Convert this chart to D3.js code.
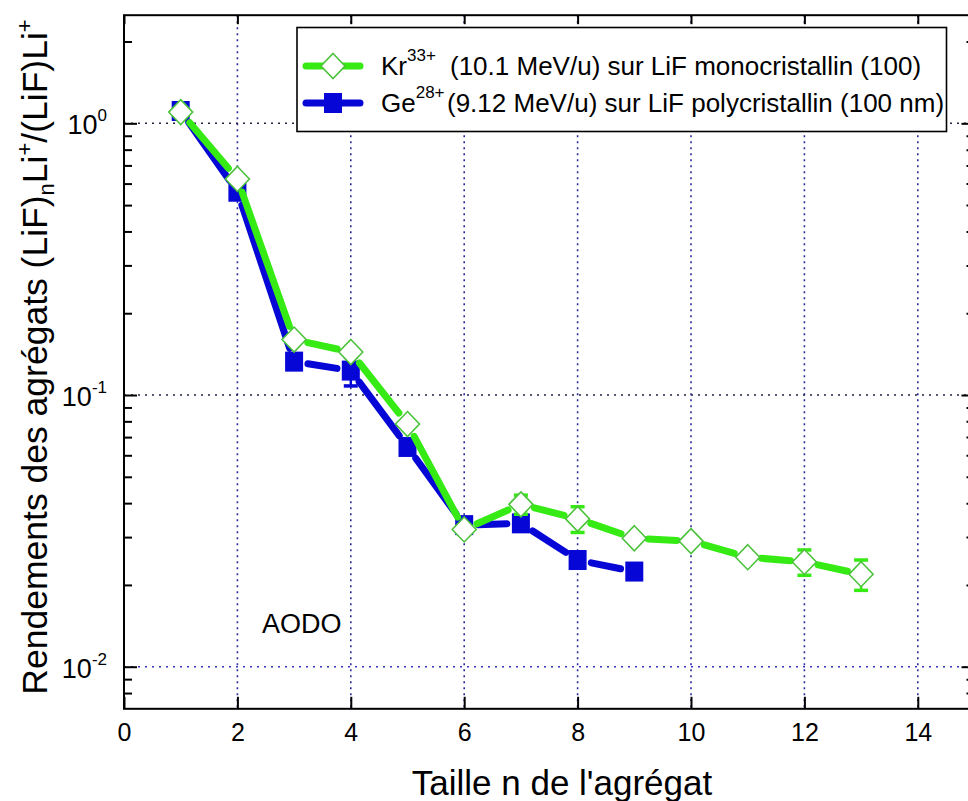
<!DOCTYPE html>
<html>
<head>
<meta charset="utf-8">
<script src="https://cdn.jsdelivr.net/npm/d3@7"></script>
<style>
  html, body { margin: 0; padding: 0; background: #fff; }
  svg { display: block; font-family: "Liberation Sans", Arial, sans-serif; }
</style>
</head>
<body>
<svg id="chart" width="968" height="801"></svg>
<script>
// ---- data ----
const sizes = [1, 2, 3, 4, 5, 6, 7, 8, 9, 10, 11, 12, 13];
const krValues = [1.10, 0.624, 0.160, 0.144, 0.0782, 0.0320, 0.0396, 0.0350, 0.0297, 0.0290, 0.0253, 0.0243, 0.0219];
const krErrors = [0, 0, 0, 0, 0, 0, 0.0032, 0.0038, 0, 0, 0, 0.0026, 0.0028];
const geSizes = [1, 2, 3, 4, 5, 6, 7, 8, 9];
const geValues = [1.11, 0.560, 0.1327, 0.123, 0.0644, 0.0332, 0.0337, 0.0247, 0.0224];
const geErrors = [0, 0, 0, 0.015, 0, 0, 0, 0, 0];
const xTicks = [0, 2, 4, 6, 8, 10, 12, 14];
const xGrid = [2, 4, 6, 8, 10, 12, 14];
const yMajor = [0.01, 0.1, 1];
const yExponents = ["-2", "-1", "0"];
const yMinor = [0.008, 0.009, 0.02, 0.03, 0.04, 0.05, 0.06, 0.07, 0.08, 0.09, 0.2, 0.3, 0.4, 0.5, 0.6, 0.7, 0.8, 0.9, 2];
const xDomain = [0, 15];
const yDomain = [0.007, 2.5];
const legendLabels = [
  {ion: "Kr", charge: "33+", text: "(10.1 MeV/u) sur LiF monocristallin (100)"},
  {ion: "Ge", charge: "28+", text: "(9.12 MeV/u) sur LiF polycristallin (100 nm)"}
];
const xTitle = "Taille n de l'agrégat";
const annotation = "AODO";

// ---- layout ----
const GREEN = "#36ea14", GREEN_MK = "#4cc23c", BLUE = "#0606d6";
const svg = d3.select("#chart");
const x = d3.scaleLinear().domain(xDomain).range([124, 974.5]);
const y = d3.scaleLog().domain(yDomain).range([708.8, 15.2]);
const [x0, x1] = x.range();
const [yb, yt] = y.range();

// grid
const grid = svg.append("g");
grid.selectAll("line.v").data(xGrid).join("line")
  .attr("x1", d => x(d)).attr("x2", d => x(d)).attr("y1", yt).attr("y2", yb)
  .attr("stroke", "#2c2c98").attr("stroke-width", 1.6).attr("stroke-dasharray", "2,4");
grid.selectAll("line.h").data(yMajor).join("line")
  .attr("x1", x0).attr("x2", x1).attr("y1", d => y(d)).attr("y2", d => y(d))
  .attr("stroke", d => d === 0.01 ? "#3535c8" : "#222244").attr("stroke-width", 1.6).attr("stroke-dasharray", "2,5");

// axes (ticks inward)
const axes = svg.append("g");
const axBottom = axes.append("g").attr("transform", `translate(0,${yb})`)
  .call(d3.axisBottom(x).tickValues(xTicks).tickSize(-12).tickPadding(14).tickFormat(d3.format("d")));
axes.append("g").attr("transform", `translate(0,${yt})`)
  .call(d3.axisTop(x).tickValues(xTicks).tickSize(-9).tickFormat(""));
axes.append("g").attr("transform", `translate(${x0},0)`)
  .call(d3.axisLeft(y).tickValues(yMajor).tickSize(-13).tickFormat(""));
axes.append("g").attr("transform", `translate(${x0},0)`)
  .call(d3.axisLeft(y).tickValues(yMinor).tickSize(-8).tickFormat(""));
axes.append("g").attr("transform", `translate(${x1},0)`)
  .call(d3.axisRight(y).tickValues(yMajor).tickSize(-13).tickFormat(""));
axes.append("g").attr("transform", `translate(${x1},0)`)
  .call(d3.axisRight(y).tickValues(yMinor).tickSize(-8).tickFormat(""));
axes.selectAll(".domain").remove();
axes.selectAll(".tick line").attr("stroke", "#000").attr("stroke-width", 2);
axBottom.selectAll("text").attr("font-size", 25).attr("fill", "#000")
  .attr("font-family", "'Liberation Sans', Arial, sans-serif");
svg.append("rect").attr("x", x0).attr("y", yt).attr("width", x1 - x0).attr("height", yb - yt)
  .attr("fill", "none").attr("stroke", "#000").attr("stroke-width", 2);

// y tick labels with superscripts
const yl = svg.append("g");
yMajor.forEach((v, i) => {
  const t = yl.append("text").attr("x", 107).attr("y", y(v) + 11)
    .attr("text-anchor", "end").attr("font-size", 27).attr("fill", "#000");
  t.append("tspan").text("10");
  t.append("tspan").attr("dy", -13).attr("font-size", 17).text(yExponents[i]);
});

// legend box
const lg = svg.append("g");
lg.append("rect").attr("x", 297).attr("y", 27.5).attr("width", 649.5).attr("height", 104)
  .attr("fill", "#fff").attr("stroke", "#000").attr("stroke-width", 1.6);

// series drawing
function diamond(g, cx, cy) {
  g.append("path").attr("d", `M${cx},${cy - 12.5}L${cx + 12},${cy}L${cx},${cy + 12.5}L${cx - 12},${cy}Z`)
    .attr("fill", "#fff").attr("stroke", GREEN_MK).attr("stroke-width", 1.6);
}
function square(g, cx, cy) {
  g.append("rect").attr("x", cx - 9).attr("y", cy - 10).attr("width", 18).attr("height", 20).attr("fill", BLUE);
}
function drawSeries(xs, vals, errs, color, marker) {
  const g = svg.append("g");
  const pts = xs.map((d, i) => [x(d), y(vals[i])]);
  const gap = 14;
  for (let i = 0; i < pts.length - 1; i++) {
    const [ax, ay] = pts[i], [bx, by] = pts[i + 1];
    const L = Math.hypot(bx - ax, by - ay);
    const ux = (bx - ax) / L, uy = (by - ay) / L;
    g.append("line")
      .attr("x1", ax + ux * gap).attr("y1", ay + uy * gap)
      .attr("x2", bx - ux * gap).attr("y2", by - uy * gap)
      .attr("stroke", color).attr("stroke-width", 7).attr("stroke-linecap", "round");
  }
  xs.forEach((d, i) => {
    if (!errs[i]) return;
    const cx = x(d), ylo = y(vals[i] - errs[i]), yhi = y(vals[i] + errs[i]);
    g.append("line").attr("x1", cx).attr("x2", cx).attr("y1", yhi).attr("y2", ylo)
      .attr("stroke", color).attr("stroke-width", 2.5);
    [ylo, yhi].forEach(yy => g.append("line").attr("x1", cx - 7).attr("x2", cx + 7)
      .attr("y1", yy).attr("y2", yy).attr("stroke", color).attr("stroke-width", 3.5));
  });
  pts.forEach(([px, py]) => marker(g, px, py));
}
drawSeries(geSizes, geValues, geErrors, BLUE, square);
drawSeries(sizes, krValues, krErrors, GREEN, diamond);

// legend entries
const legendRows = [
  {color: GREEN, marker: diamond, yy: 66},
  {color: BLUE, marker: square, yy: 103}
];
legendRows.forEach((r, i) => {
  lg.append("line").attr("x1", 306).attr("x2", 360).attr("y1", r.yy).attr("y2", r.yy)
    .attr("stroke", r.color).attr("stroke-width", 7).attr("stroke-linecap", "round");
  r.marker(lg, 333, r.yy);
  const t = lg.append("text").attr("x", 381).attr("y", r.yy + 9).attr("font-size", 26).attr("fill", "#000");
  t.append("tspan").text(legendLabels[i].ion);
  t.append("tspan").attr("dy", -14).attr("font-size", 17).text(legendLabels[i].charge);
  t.append("tspan").attr("x", i === 0 ? 450 : 447).attr("dy", 14).text(legendLabels[i].text);
});

// annotation
svg.append("text").attr("x", 262).attr("y", 633).attr("font-size", 27).attr("fill", "#000").text(annotation);

// axis titles
svg.append("text").attr("x", 562).attr("y", 795).attr("text-anchor", "middle")
  .attr("font-size", 35).attr("fill", "#000").text(xTitle);
const yTitle = svg.append("text").attr("transform", "translate(47,357) rotate(-90)")
  .attr("text-anchor", "middle").attr("font-size", 35.5).attr("fill", "#000");
yTitle.append("tspan").text("Rendements des agrégats (LiF)");
yTitle.append("tspan").attr("font-size", 22).attr("dy", 7).text("n");
yTitle.append("tspan").attr("dy", -7).text("Li");
yTitle.append("tspan").attr("font-size", 22).attr("dy", -15).text("+");
yTitle.append("tspan").attr("dy", 15).text("/(LiF)Li");
yTitle.append("tspan").attr("font-size", 22).attr("dy", -15).text("+");
</script>
</body>
</html>
